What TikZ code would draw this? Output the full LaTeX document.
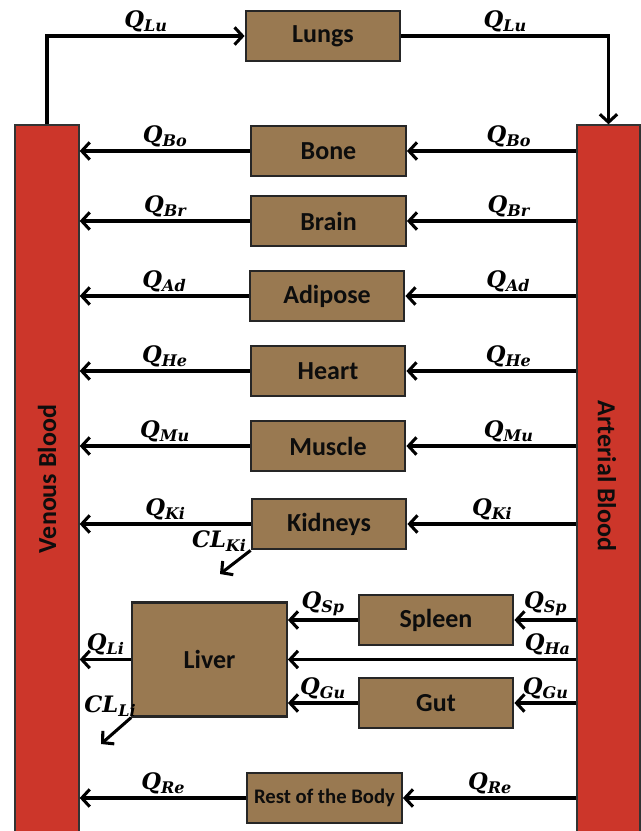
\documentclass[tikz,border=0pt]{standalone}
\usepackage{fontspec}
\setmainfont{Carlito}
\newfontfamily\qf{DejaVu Serif}
\usetikzlibrary{arrows.meta}
\definecolor{bloodred}{RGB}{204,54,42}
\definecolor{organ}{RGB}{153,121,81}
\newcommand{\ql}[2]{{\qf\bfseries\itshape\fontsize{17}{17}\selectfont #1\raisebox{-0.35ex}{\fontsize{12}{12}\selectfont #2}}}
\begin{document}
\begin{tikzpicture}[x=0.75pt,y=-0.75pt,
  organbox/.style={draw=black!85, line width=1.6pt, fill=organ, minimum width=116pt, minimum height=38pt, inner sep=0pt, text=black!95, font=\bfseries\fontsize{19.5}{19.5}\selectfont},
  bloodbar/.style={draw=black!80, line width=1pt, fill=bloodred, inner sep=0pt},
  bartext/.style={font=\bfseries\fontsize{19.5}{19.5}\selectfont, text=black!95},
  flow/.style={line width=2.3pt, -{Straight Barb[length=6pt,width=13pt]}},
  flowlab/.style={above, inner sep=2pt}]
\useasboundingbox (0,0) rectangle (641,831);
% blood bars
\node[bloodbar, minimum width=48pt, minimum height=532.5pt] (venous) at (47,480) {};
\node[bloodbar, minimum width=47.25pt, minimum height=532.5pt] (arterial) at (608.5,480) {};
\node[bartext, rotate=90] (venoustext) at (47,479) {Venous Blood};
\node[bartext, rotate=-90] (arterialtext) at (607,476) {Arterial Blood};
% organs
\node[organbox] (lungs) at (323,36) {Lungs};
\node[organbox] (bone) at (328.5,151) {Bone};
\node[organbox] (brain) at (328.5,221) {Brain};
\node[organbox] (adipose) at (327,296) {Adipose};
\node[organbox] (heart) at (328,371) {Heart};
\node[organbox] (muscle) at (328,446) {Muscle};
\node[organbox] (kidneys) at (329,524) {Kidneys};
\node[organbox] (spleen) at (436,620) {Spleen};
\node[organbox, minimum width=116pt, minimum height=85.5pt] (liver) at (209.5,659.5) {Liver};
\node[organbox] (gut) at (436,703) {Gut};
\node[organbox, font=\bfseries\fontsize{15.5}{15.5}\selectfont] (rest) at (324.5,798) {Rest of the Body};
% lungs loop
\draw[flow] (venous.north) |- node[flowlab, pos=0.75] {\ql{Q}{Lu}} (lungs.west);
\draw[flow] (lungs.east) -| node[flowlab, pos=0.25] {\ql{Q}{Lu}} (arterial.north);
% parallel organs
\foreach \o/\s/\p in {bone/Bo/0.4, brain/Br/0.4, adipose/Ad/0.4, heart/He/0.4, muscle/Mu/0.4, kidneys/Ki/0.5, rest/Re/0.5}{
  \draw[flow] (\o.west) -- node[flowlab] {\ql{Q}{\s}} (\o.west -| venous.east);
  \draw[flow] (\o.east -| arterial.west) -- node[flowlab, pos=\p] {\ql{Q}{\s}} (\o.east);
}
% kidney clearance
\coordinate (clki) at (220,574);
\draw[flow] (kidneys.south west) -- (clki);
\node (clkilab) at (219,541) {\ql{CL}{Ki}};
% splanchnic
\draw[flow] (arterial.west |- spleen.east) -- node[flowlab] {\ql{Q}{Sp}} (spleen.east);
\draw[flow] (spleen.west) -- node[flowlab] {\ql{Q}{Sp}} (liver.east |- spleen.west);
\draw[flow] (arterial.west |- liver.east) -- node[flowlab, pos=0.1] {\ql{Q}{Ha}} (liver.east);
\draw[flow] (arterial.west |- gut.east) -- node[flowlab] {\ql{Q}{Gu}} (gut.east);
\draw[flow] (gut.west) -- node[flowlab] {\ql{Q}{Gu}} (liver.east |- gut.west);
\draw[flow] (liver.west) -- node[flowlab] {\ql{Q}{Li}} (liver.west -| venous.east);
\coordinate (clli) at (101,744);
\draw[flow] (liver.south west) -- (clli);
\node (cllilab) at (110,706) {\ql{CL}{Li}};
\end{tikzpicture}
\end{document}
